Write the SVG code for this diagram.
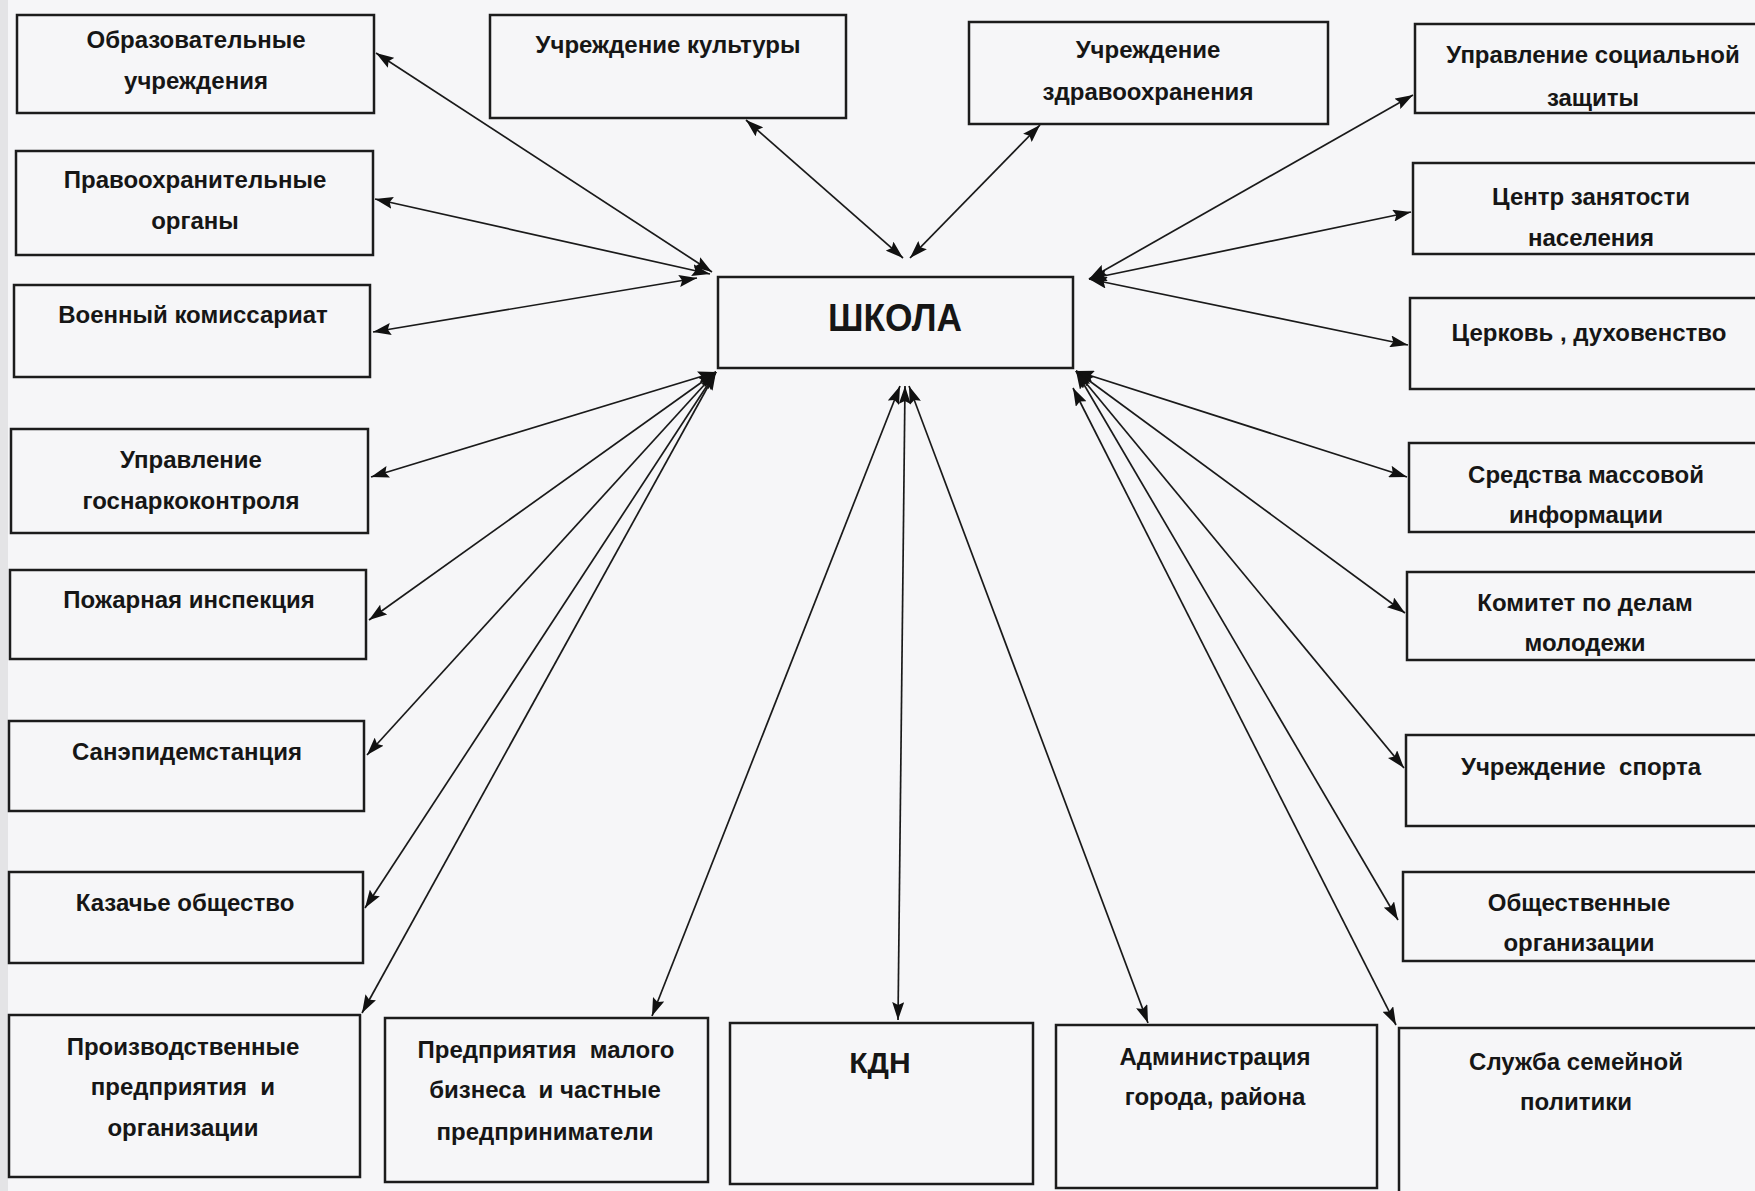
<svg xmlns="http://www.w3.org/2000/svg" width="1755" height="1191" viewBox="0 0 1755 1191">
<defs>
<marker id="ah" viewBox="0 0 18 12" refX="18" refY="6" markerWidth="18" markerHeight="12" markerUnits="userSpaceOnUse" orient="auto-start-reverse">
<path d="M0,0 L18,6 L0,12 L3,6 z" fill="#111"/>
</marker>
</defs>
<style>
.box{fill:none;stroke:#1c1c1c;stroke-width:2.5}
.t{font-family:"Liberation Sans",Arial,sans-serif;font-weight:bold;font-size:24px;fill:#161616;text-anchor:middle}
.big{font-size:38px}
.kdn{font-size:30px}
.c{fill:none;stroke:#1a1a1a;stroke-width:1.7;marker-start:url(#ah);marker-end:url(#ah)}
</style>
<rect x="0" y="0" width="1755" height="1191" fill="#f6f6f8"/>
<rect x="0" y="0" width="8" height="1191" fill="#e4e4e6"/>

<g id="connectors">
<line class="c" x1="712" y1="272" x2="376" y2="53"/>
<line class="c" x1="710" y1="274" x2="375" y2="199"/>
<line class="c" x1="697" y1="278" x2="373" y2="332"/>
<line class="c" x1="716" y1="372" x2="371" y2="477"/>
<line class="c" x1="716" y1="372" x2="369" y2="620"/>
<line class="c" x1="716" y1="372" x2="367" y2="755"/>
<line class="c" x1="716" y1="372" x2="365" y2="908"/>
<line class="c" x1="716" y1="372" x2="362" y2="1013"/>
<line class="c" x1="903" y1="258" x2="746" y2="120"/>
<line class="c" x1="910" y1="258" x2="1040" y2="125"/>
<line class="c" x1="1089" y1="279" x2="1413" y2="95"/>
<line class="c" x1="1089" y1="279" x2="1411" y2="212"/>
<line class="c" x1="1089" y1="279" x2="1408" y2="345"/>
<line class="c" x1="1076" y1="371" x2="1407" y2="477"/>
<line class="c" x1="1076" y1="371" x2="1405" y2="613"/>
<line class="c" x1="1076" y1="371" x2="1404" y2="768"/>
<line class="c" x1="1076" y1="371" x2="1398" y2="920"/>
<line class="c" x1="1073" y1="388" x2="1396" y2="1025"/>
<line class="c" x1="900" y1="386" x2="652" y2="1016"/>
<line class="c" x1="905" y1="386" x2="898" y2="1020"/>
<line class="c" x1="909" y1="386" x2="1148" y2="1023"/>
</g>

<g id="school"><rect class="box" x="718" y="277" width="355" height="91"/><text class="t big" x="895" y="331" textLength="134" lengthAdjust="spacingAndGlyphs">ШКОЛА</text></g>

<g id="n-obraz"><rect class="box" x="17" y="15" width="357" height="98"/><text class="t" x="196" y="48">Образовательные</text><text class="t" x="196" y="89">учреждения</text></g>
<g id="n-pravo"><rect class="box" x="16" y="151" width="357" height="104"/><text class="t" x="195" y="188">Правоохранительные</text><text class="t" x="195" y="229">органы</text></g>
<g id="n-voen"><rect class="box" x="14" y="285" width="356" height="92"/><text class="t" x="193" y="323">Военный комиссариат</text></g>
<g id="n-gosnark"><rect class="box" x="11" y="429" width="357" height="104"/><text class="t" x="191" y="468">Управление</text><text class="t" x="191" y="509">госнаркоконтроля</text></g>
<g id="n-pozh"><rect class="box" x="10" y="570" width="356" height="89"/><text class="t" x="189" y="608">Пожарная инспекция</text></g>
<g id="n-sanep"><rect class="box" x="9" y="721" width="355" height="90"/><text class="t" x="187" y="760">Санэпидемстанция</text></g>
<g id="n-kazach"><rect class="box" x="9" y="872" width="354" height="91"/><text class="t" x="185" y="911">Казачье общество</text></g>
<g id="n-proizv"><rect class="box" x="9" y="1015" width="351" height="162"/><text class="t" x="183" y="1055">Производственные</text><text class="t" x="183" y="1095" xml:space="preserve">предприятия  и</text><text class="t" x="183" y="1136">организации</text></g>

<g id="n-kult"><rect class="box" x="490" y="15" width="356" height="103"/><text class="t" x="668" y="53">Учреждение культуры</text></g>
<g id="n-zdrav"><rect class="box" x="969" y="22" width="359" height="102"/><text class="t" x="1148" y="58">Учреждение</text><text class="t" x="1148" y="100">здравоохранения</text></g>

<g id="n-soc"><rect class="box" x="1415" y="24" width="345" height="89"/><text class="t" x="1593" y="63">Управление социальной</text><text class="t" x="1593" y="106">защиты</text></g>
<g id="n-zan"><rect class="box" x="1413" y="163" width="347" height="91"/><text class="t" x="1591" y="205">Центр занятости</text><text class="t" x="1591" y="246">населения</text></g>
<g id="n-cerk"><rect class="box" x="1410" y="298" width="350" height="91"/><text class="t" x="1589" y="341">Церковь , духовенство</text></g>
<g id="n-smi"><rect class="box" x="1409" y="443" width="351" height="89"/><text class="t" x="1586" y="483">Средства массовой</text><text class="t" x="1586" y="523">информации</text></g>
<g id="n-molod"><rect class="box" x="1407" y="572" width="353" height="88"/><text class="t" x="1585" y="611">Комитет по делам</text><text class="t" x="1585" y="651">молодежи</text></g>
<g id="n-sport"><rect class="box" x="1406" y="735" width="354" height="91"/><text class="t" x="1581" y="775" xml:space="preserve">Учреждение  спорта</text></g>
<g id="n-obsh"><rect class="box" x="1403" y="872" width="357" height="89"/><text class="t" x="1579" y="911">Общественные</text><text class="t" x="1579" y="951">организации</text></g>
<g id="n-sem"><rect class="box" x="1399" y="1028" width="361" height="170"/><text class="t" x="1576" y="1070">Служба семейной</text><text class="t" x="1576" y="1110">политики</text></g>

<g id="n-malbiz"><rect class="box" x="385" y="1018" width="323" height="164"/><text class="t" x="546" y="1058" xml:space="preserve">Предприятия  малого</text><text class="t" x="545" y="1098" xml:space="preserve">бизнеса  и частные</text><text class="t" x="545" y="1140">предприниматели</text></g>
<g id="n-kdn"><rect class="box" x="730" y="1023" width="303" height="161"/><text class="t kdn" x="880" y="1073">КДН</text></g>
<g id="n-admin"><rect class="box" x="1056" y="1025" width="321" height="163"/><text class="t" x="1215" y="1065">Администрация</text><text class="t" x="1215" y="1105">города, района</text></g>
</svg>
